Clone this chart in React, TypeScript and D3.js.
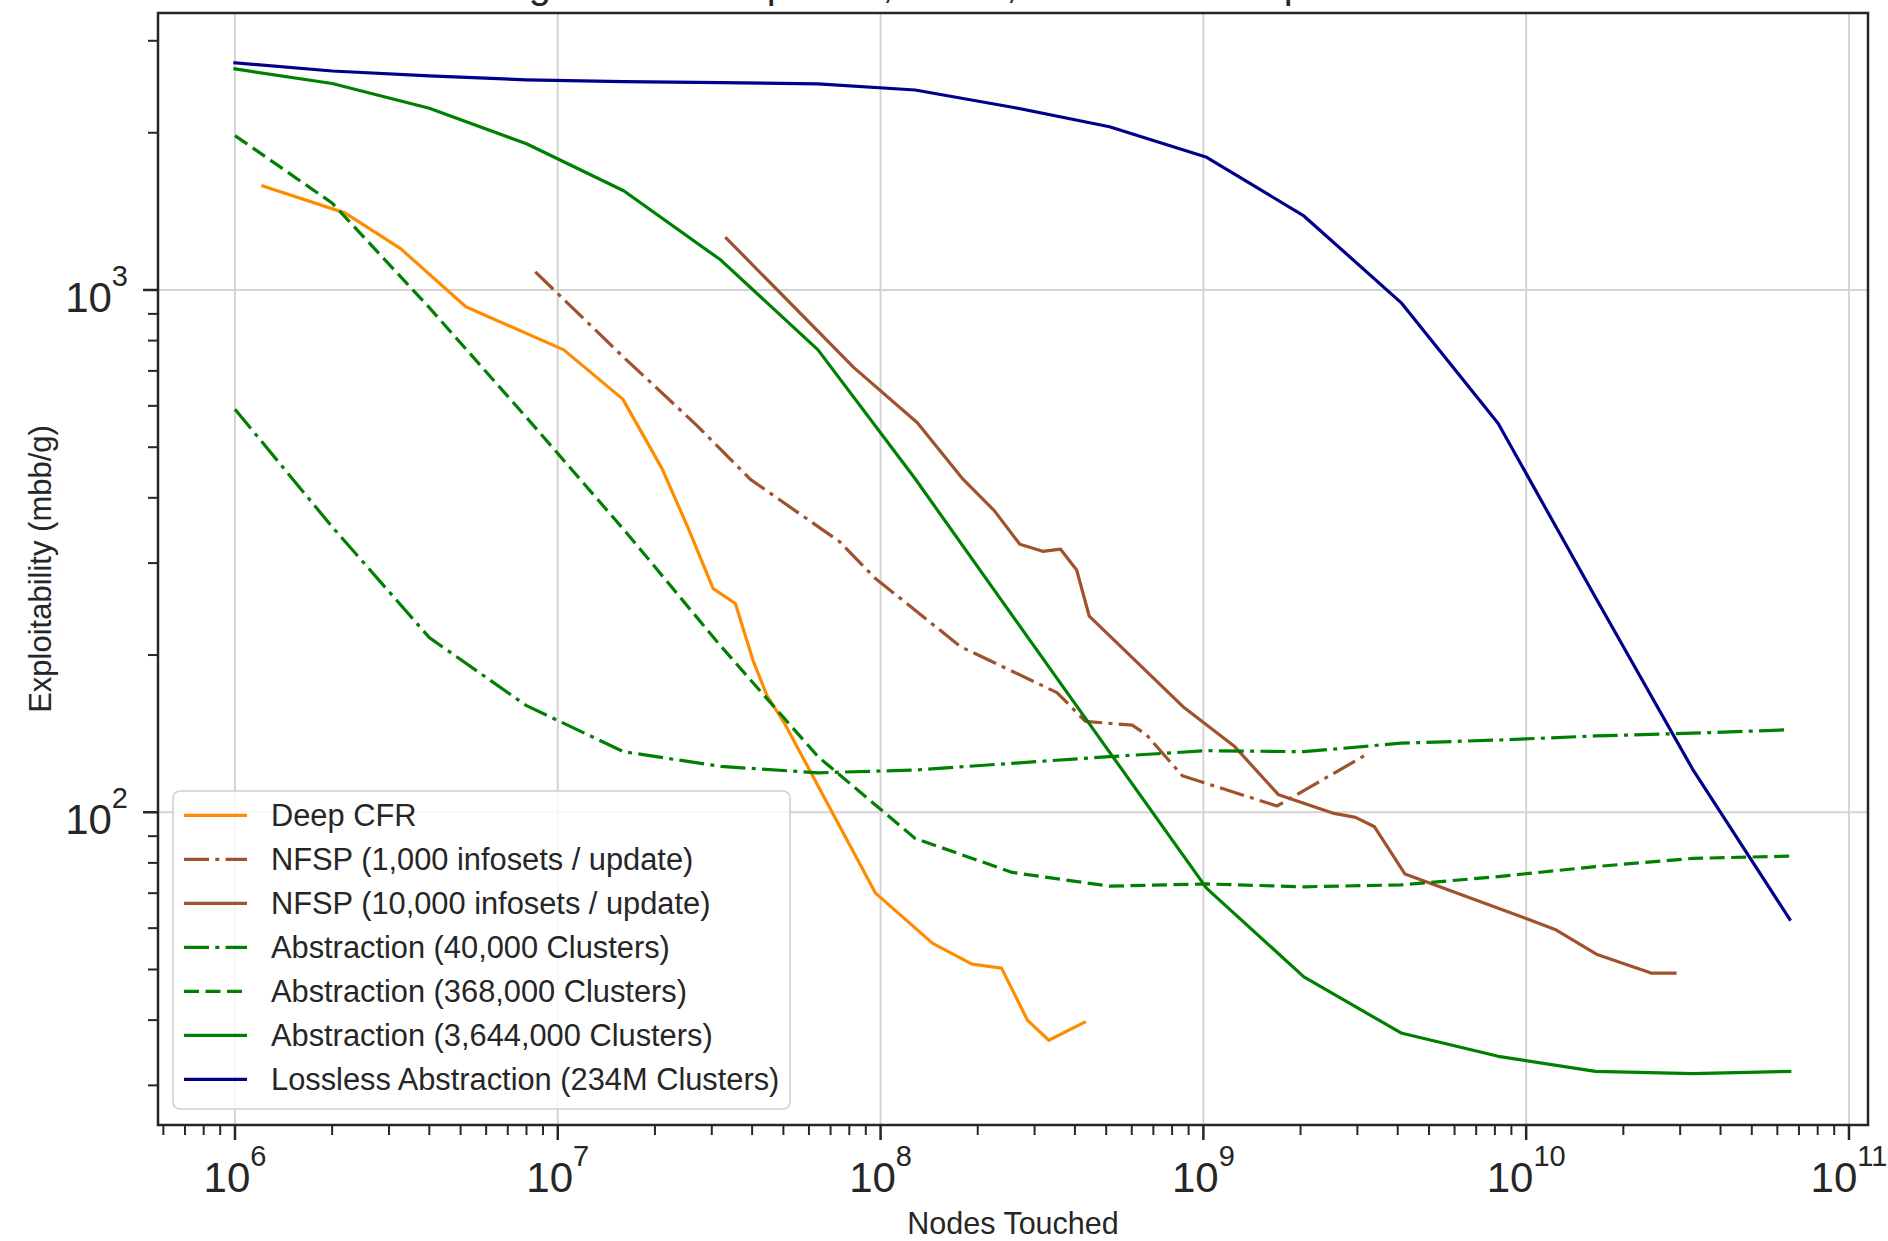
import React from "react";
import * as d3 from "d3";

// x values shared by the tabular abstraction runs (nodes touched)
const abstractionNodes = [1e6, 2e6, 4e6, 8e6, 1.6e7, 3.2e7, 6.4e7, 1.28e8, 2.56e8, 5.12e8, 1.024e9, 2.048e9, 4.096e9, 8.192e9, 1.6384e10, 3.2768e10, 6.5536e10];

const deepCfrNodes = [1.22e6, 2.19e6, 3.26e6, 5.19e6, 1.044e7, 1.59e7, 2.1e7, 2.52e7, 3.03e7, 3.55e7, 4.03e7, 4.45e7, 5.01e7, 9.65e7, 1.45e8, 1.92e8, 2.37e8, 2.85e8, 3.32e8, 4.28e8];
const deepCfrExpl = [1581, 1405, 1200, 929, 768, 618, 456, 353, 268, 251, 195, 167, 149, 70, 56.1, 51.2, 50.3, 40.0, 36.6, 39.6];

const nfspSmallNodes = [8.52e6, 1.59e7, 2.7e7, 3.95e7, 7.45e7, 9.6e7, 1.77e8, 3.52e8, 4.31e8, 6.02e8, 6.66e8, 8.6e8, 1.69e9, 3.25e9];
const nfspSmallExpl = [1083, 746, 550, 434, 330, 281, 207.5, 169.5, 149.3, 146.8, 140.8, 117.5, 102.8, 129.7];

const nfspLargeNodes = [3.33e7, 8.25e7, 1.3e8, 1.79e8, 2.25e8, 2.7e8, 3.18e8, 3.61e8, 4.05e8, 4.43e8, 8.65e8, 1.25e9, 1.71e9, 2.54e9, 2.96e9, 3.39e9, 4.21e9, 4.9e9, 1.0e10, 1.24e10, 1.65e10, 2.45e10, 2.89e10];
const nfspLargeExpl = [1256, 711, 557, 436, 378, 326, 316, 319, 291, 237.5, 159.3, 133.6, 108, 99.5, 97.8, 93.8, 76.2, 73.6, 62.6, 59.5, 53.5, 49.2, 49.2];

const abs40kExpl = [591, 352, 216, 160, 130.6, 122.4, 119, 120.5, 124.1, 127.8, 131.2, 130.6, 135.6, 137.5, 140, 141.7, 143.9];
const abs368kExpl = [1975, 1467, 925, 570, 348, 208, 127.8, 89.1, 76.7, 72.2, 72.9, 72.0, 72.6, 75.3, 78.7, 81.6, 82.4];
const abs3644kExpl = [2650, 2485, 2228, 1905, 1549, 1141, 768, 435, 238, 130.4, 71.5, 48.4, 37.8, 34.1, 31.9, 31.6, 31.9];
const losslessExpl = [2723, 2626, 2569, 2525, 2505, 2495, 2480, 2415, 2238, 2054, 1795, 1386, 946, 555, 258, 121, 62.4];

const seriesLabels = [
  "Deep CFR",
  "NFSP (1,000 infosets / update)",
  "NFSP (10,000 infosets / update)",
  "Abstraction (40,000 Clusters)",
  "Abstraction (368,000 Clusters)",
  "Abstraction (3,644,000 Clusters)",
  "Lossless Abstraction (234M Clusters)",
];

const xTickValues = [1e6, 1e7, 1e8, 1e9, 1e10, 1e11];
const xTickExponents = ["6", "7", "8", "9", "10", "11"];
const yTickValues = [1e2, 1e3];
const yTickExponents = ["2", "3"];

// only the descenders of the title are visible in the source figure
const title = "Convergence of Deep CFR, NFSP, and Domain-Specific Abstractions";

const W = 1888;
const H = 1241;
const plot = { left: 158, right: 1868, top: 13, bottom: 1125 };
const ink = "#262626";
const font = "'Liberation Sans', Arial, Helvetica, sans-serif";

const DASHED = "15 6.5";
const DASHDOT = "25 6.3 4 6.3";

export default function App() {
  const x = d3.scaleLog().domain([5.775e5, 1.1454e11]).range([plot.left, plot.right]);
  const y = d3.scaleLog().domain([25.19, 3391]).range([plot.bottom, plot.top]);

  const line = d3.line<[number, number]>()
    .x(d => x(d[0]))
    .y(d => y(d[1]));

  const zip = (a: number[], b: number[]) => a.map((v, i) => [v, b[i]] as [number, number]);

  // plot order = legend order
  const series = [
    { label: seriesLabels[0], pts: zip(deepCfrNodes, deepCfrExpl), color: "#ff8c00", dash: null },
    { label: seriesLabels[1], pts: zip(nfspSmallNodes, nfspSmallExpl), color: "#a0522d", dash: DASHDOT },
    { label: seriesLabels[2], pts: zip(nfspLargeNodes, nfspLargeExpl), color: "#a0522d", dash: null },
    { label: seriesLabels[3], pts: zip(abstractionNodes, abs40kExpl), color: "#008000", dash: DASHDOT },
    { label: seriesLabels[4], pts: zip(abstractionNodes, abs368kExpl), color: "#008000", dash: DASHED },
    { label: seriesLabels[5], pts: zip(abstractionNodes, abs3644kExpl), color: "#008000", dash: null },
    { label: seriesLabels[6], pts: zip(abstractionNodes, losslessExpl), color: "#00008b", dash: null },
  ];

  const isDecade = (t: number) => Math.abs(Math.log10(t) - Math.round(Math.log10(t))) < 1e-9;
  const xMinor = x.ticks().filter(t => !isDecade(t));
  const yMinor = y.ticks().filter(t => !isDecade(t));

  const legend = { x: 173, y: 791, w: 617, h: 318, rowTop: 815.3, rowStep: 44 };

  return (
    <svg width={W} height={H} style={{ position: "absolute", left: 0, top: 0, display: "block", background: "#fff" }}
      fontFamily={font}>
      <defs>
        <clipPath id="plot-area">
          <rect x={plot.left} y={plot.top} width={plot.right - plot.left} height={plot.bottom - plot.top} />
        </clipPath>
      </defs>
      <rect x={0} y={0} width={W} height={H} fill="#fff" />

      <text x={(plot.left + plot.right) / 2} y={-2} fontSize={40} fill={ink} textAnchor="middle">{title}</text>

      {/* grid */}
      <g stroke="#d4d4d4" strokeWidth={2}>
        {xTickValues.map(t => (
          <line key={"gx" + t} x1={x(t)} x2={x(t)} y1={plot.top} y2={plot.bottom} />
        ))}
        {yTickValues.map(t => (
          <line key={"gy" + t} x1={plot.left} x2={plot.right} y1={y(t)} y2={y(t)} />
        ))}
      </g>

      {/* series */}
      <g clipPath="url(#plot-area)" fill="none" strokeWidth={3.2} strokeLinejoin="round">
        {series.map(s => (
          <path key={s.label} d={line(s.pts) || ""} stroke={s.color}
            strokeDasharray={s.dash || undefined} strokeLinecap={s.dash ? "butt" : "square"} />
        ))}
      </g>

      {/* spines */}
      <rect x={plot.left} y={plot.top} width={plot.right - plot.left} height={plot.bottom - plot.top}
        fill="none" stroke={ink} strokeWidth={2.5} />

      {/* ticks */}
      <g stroke={ink}>
        {xTickValues.map(t => (
          <line key={"xt" + t} x1={x(t)} x2={x(t)} y1={plot.bottom} y2={plot.bottom + 15} strokeWidth={2.5} />
        ))}
        {xMinor.map(t => (
          <line key={"xm" + t} x1={x(t)} x2={x(t)} y1={plot.bottom} y2={plot.bottom + 10} strokeWidth={2} />
        ))}
        {yTickValues.map(t => (
          <line key={"yt" + t} x1={plot.left - 15} x2={plot.left} y1={y(t)} y2={y(t)} strokeWidth={2.5} />
        ))}
        {yMinor.map(t => (
          <line key={"ym" + t} x1={plot.left - 10} x2={plot.left} y1={y(t)} y2={y(t)} strokeWidth={2} />
        ))}
      </g>

      {/* tick labels */}
      <g fill={ink} fontSize={42}>
        {xTickValues.map((t, i) => (
          <text key={"xl" + t} x={x(t)} y={plot.bottom + 67} textAnchor="middle">
            10<tspan fontSize={29} dy={-26}>{xTickExponents[i]}</tspan>
          </text>
        ))}
        {yTickValues.map((t, i) => (
          <text key={"yl" + t} x={plot.left - 30} y={y(t) + 21.7} textAnchor="end">
            10<tspan fontSize={29} dy={-26}>{yTickExponents[i]}</tspan>
          </text>
        ))}
      </g>

      {/* axis labels */}
      <text x={(plot.left + plot.right) / 2} y={1233.5} fontSize={30.5} fill={ink} textAnchor="middle">Nodes Touched</text>
      <text transform={`translate(51, ${(plot.top + plot.bottom) / 2}) rotate(-90)`} fontSize={31} fill={ink}
        textAnchor="middle">Exploitability (mbb/g)</text>

      {/* legend */}
      <g>
        <rect x={legend.x} y={legend.y} width={legend.w} height={legend.h} rx={7} ry={7}
          fill="#fff" fillOpacity={0.8} stroke="#d0d0d0" strokeWidth={1.6} />
        {series.map((s, i) => {
          const cy = legend.rowTop + i * legend.rowStep;
          return (
            <g key={"lg" + s.label}>
              <line x1={184} x2={247} y1={cy} y2={cy} stroke={s.color} strokeWidth={3.2}
                strokeDasharray={s.dash || undefined} strokeLinecap="butt" />
              <text x={271} y={cy + 10.9} fontSize={30.8} fill={ink}>{s.label}</text>
            </g>
          );
        })}
      </g>
    </svg>
  );
}
